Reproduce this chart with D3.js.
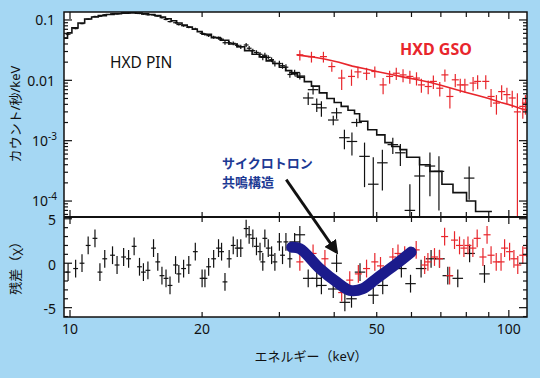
<!DOCTYPE html>
<html>
<head>
<meta charset="utf-8">
<script src="https://cdn.jsdelivr.net/npm/d3@7"></script>
<style>
  html, body { margin: 0; padding: 0; background: #a5d7f3; }
  svg { display: block; font-family: "Noto Sans", "Noto Sans CJK JP", sans-serif; }
</style>
</head>
<body>
<svg id="chart" width="540" height="378"></svg>
<script>
// HXD spectrum with cyclotron resonance feature
// [energy keV, counts/s/keV, error]
const pinData = [
  [9.9, 0.058, 0.002], [10.3, 0.072, 0.002], [10.65, 0.087, 0.002], [11.0, 0.103, 0.003],
  [11.4, 0.114, 0.003], [11.7, 0.115, 0.003], [12.0, 0.122, 0.003], [12.5, 0.127, 0.003],
  [12.8, 0.126, 0.003], [13.25, 0.131, 0.003], [13.6, 0.131, 0.003], [14.0, 0.134, 0.003],
  [14.4, 0.128, 0.003], [14.7, 0.125, 0.003], [15.05, 0.122, 0.003], [15.5, 0.121, 0.003],
  [15.85, 0.116, 0.003], [16.2, 0.109, 0.003], [16.55, 0.102, 0.003], [16.9, 0.094, 0.003],
  [17.4, 0.090, 0.003], [17.7, 0.084, 0.003], [18.15, 0.080, 0.003], [18.65, 0.076, 0.003],
  [19.3, 0.071, 0.003], [20.0, 0.060, 0.003], [20.3, 0.058, 0.003], [20.7, 0.055, 0.003],
  [21.25, 0.052, 0.003], [21.8, 0.050, 0.003], [22.15, 0.048, 0.003], [22.55, 0.042, 0.003],
  [23.05, 0.042, 0.003], [23.55, 0.041, 0.003], [24.05, 0.038, 0.003], [24.5, 0.036, 0.003],
  [25.2, 0.0385, 0.003], [25.6, 0.034, 0.003], [26.1, 0.031, 0.0025], [26.6, 0.029, 0.0025],
  [27.1, 0.027, 0.0025], [27.5, 0.024, 0.0025], [27.8, 0.026, 0.0025], [28.3, 0.024, 0.002],
  [28.8, 0.022, 0.002], [29.3, 0.019, 0.002], [30.0, 0.019, 0.002], [30.5, 0.0175, 0.002],
  [31.05, 0.0165, 0.002], [31.7, 0.0125, 0.0015], [32.5, 0.0135, 0.0015], [33.4, 0.0118, 0.0015],
  [34.9, 0.0051, 0.0012], [35.8, 0.0070, 0.0012], [36.5, 0.0040, 0.0010], [37.4, 0.0035, 0.0010],
  [39.8, 0.0022, 0.0004], [40.5, 0.0029, 0.0006], [42.2, 0.00112, 0.0004], [43.9, 0.00097, 0.0004],
  [45.0, 0.0020, 0.0003], [46.9, 0.00055, 0.00038], [49.1, 0.00019, 0.00034], [51.5, 0.00043, 0.00028],
  [54.4, 0.00086, 0.00026], [56.6, 0.00063, 0.00025], [59.5, 0.00007, 0.00012], [62.6, 0.00026, 0.00023],
  [66.1, 0.00038, 0.00026], [69.3, 0.00031, 0.00024], [81.2, 0.00024, 0.000135]
];

// PIN model, [bin start keV, value]; last entry closes the final bin
const pinModel = [
  [9.69, 0.050], [9.87, 0.061], [10.1, 0.074], [10.43, 0.089], [10.8, 0.104], [11.2, 0.112],
  [11.6, 0.118], [12.1, 0.123], [12.6, 0.127], [13.1, 0.130], [13.6, 0.131], [14.1, 0.130],
  [14.6, 0.127], [15.1, 0.123], [15.6, 0.118], [16.1, 0.112], [16.5, 0.105], [17.0, 0.097],
  [17.5, 0.089], [18.0, 0.082], [18.5, 0.076], [19.0, 0.070], [19.5, 0.064], [20.0, 0.058],
  [21.0, 0.051], [22.0, 0.046], [23.0, 0.040], [24.0, 0.036], [25.0, 0.031], [26.0, 0.027],
  [27.0, 0.0245], [28.0, 0.021], [29.0, 0.019], [30.0, 0.0165], [31.0, 0.0145], [32.0, 0.0128],
  [33.0, 0.0113], [34.2, 0.0095], [35.5, 0.0080], [37.0, 0.0062], [38.5, 0.0050], [40.0, 0.0043],
  [41.5, 0.0037], [43.0, 0.0032], [44.5, 0.0028], [45.7, 0.0021], [47.7, 0.00152], [50.0, 0.00125],
  [52.2, 0.00093], [54.1, 0.00080], [56.5, 0.00071], [58.5, 0.00053], [62.6, 0.00040], [66.1, 0.00031],
  [70.4, 0.00019], [74.6, 0.000138], [80.1, 0.00010], [84.0, 0.000067], [91.5, 0.000067]
];

const gsoData = [
  [33.4, 0.0264, 0.005], [35.5, 0.0247, 0.005], [37.8, 0.0247, 0.005], [39.5, 0.0169, 0.003],
  [41.6, 0.0109, 0.004], [43.8, 0.0116, 0.0035], [45.3, 0.0138, 0.003], [47.4, 0.0131, 0.003],
  [49.5, 0.0140, 0.003], [51.7, 0.0084, 0.0025], [53.5, 0.0116, 0.0028], [55.4, 0.0131, 0.003],
  [57.4, 0.0123, 0.003], [59.5, 0.0116, 0.0028], [61.6, 0.0109, 0.0027], [63.2, 0.0084, 0.0022],
  [65.5, 0.0079, 0.002], [67.3, 0.0096, 0.0024], [69.6, 0.0074, 0.002], [71.5, 0.0123, 0.0028],
  [73.4, 0.0054, 0.002], [75.5, 0.0102, 0.0025], [77.5, 0.0084, 0.0022], [79.4, 0.0084, 0.0022],
  [82.9, 0.0090, 0.0024], [84.9, 0.0096, 0.0025], [88.6, 0.0096, 0.0025], [91.1, 0.0054, 0.0018],
  [93.7, 0.0042, 0.0015], [96.3, 0.0065, 0.0018], [99.0, 0.0058, 0.0017], [101.8, 0.0051, 0.0016],
  [104.6, 0.0030, 0.0031], [107.6, 0.0037, 0.0014], [109.1, 0.0042, 0.0015]
];

// GSO model, [keV, value]
const gsoModel = [
  [32.9, 0.0264], [35.5, 0.0245], [38, 0.0225], [41, 0.0200], [44, 0.0172], [47, 0.0155],
  [50, 0.0140], [54, 0.0125], [58, 0.0112], [62, 0.0102], [66, 0.0093], [70, 0.0083],
  [75, 0.0072], [80, 0.0063], [85, 0.0056], [90, 0.0050], [96, 0.0043], [102, 0.0038],
  [108, 0.0033], [110, 0.0032]
];

// residuals [energy keV, chi]
const pinResid = [
  [9.9, -1.0], [10.3, -0.6], [10.65, 0], [11.0, 2.0], [11.4, 2.8], [11.7, -1.0], [12.0, 0.5],
  [12.5, 0.9], [12.8, -0.2], [13.25, 0.7], [13.6, 0.5], [14.0, 1.9], [14.4, -0.4], [14.7, -1.0],
  [15.05, -0.8], [15.5, 1.7], [15.85, 0.15], [16.2, -1.4], [16.55, -1.7], [16.9, -2.5], [17.4, -0.2],
  [17.7, -1.2], [18.15, -0.6], [18.65, -0.2], [19.3, 1.3], [20.0, -1.7], [20.3, -1.7], [20.7, -0.4],
  [21.25, 0.5], [21.8, 1.7], [22.15, 1.3], [22.55, -2.1], [23.05, 0.5], [23.55, 2.0], [24.05, 1.7],
  [24.5, 1.7], [25.2, 3.9], [25.6, 3.2], [26.1, 2.8], [26.6, 1.9], [27.1, 1.3], [27.5, 0.15],
  [27.8, 2.8], [28.3, 1.7], [28.8, 0.9], [29.3, 0.15], [30.0, 2.4], [30.5, 0.9], [31.05, 2.4],
  [31.7, 0.5], [32.5, 2.4], [33.4, 3.2], [34.9, -1.7], [36.5, -1.7], [37.4, -2.5], [39.8, -2.9],
  [40.5, 0], [42.3, -4.4], [43.8, -4.0], [45.8, -1.0], [49.1, -3.6], [51.6, -2.5], [56.9, -0.6],
  [59.7, -2.3], [63.1, -0.6], [66.5, 0.5], [69.5, 0.5], [72.6, -1.4], [76.5, -1.7], [81.4, 1.1],
  [88.0, -1.2]
];

const gsoResid = [
  [33.4, 0.15], [35.8, 1.1], [38.1, 0.5], [41.6, -3.3], [43.4, -1.9], [45.4, -1.2], [47.4, -0.6],
  [49.5, 0.15], [51.0, -0.3], [54.4, 0.7], [55.9, 1.1], [57.9, 0.9], [61.5, 1.5], [64.3, -0.2],
  [65.4, 0.15], [67.7, 0.7], [69.5, 0.5], [71.4, 3.0], [73.3, -1.4], [75.2, 2.6], [77.2, 2.0],
  [79.0, 1.7], [80.7, 2.0], [82.8, 1.7], [84.7, 2.8], [87.3, 0.7], [89.2, 3.2], [91.1, 0.9],
  [93.6, 0.15], [96.0, 0.15], [97.8, 1.7], [100.4, 1.3], [102.7, 0.5], [104.8, -0.2], [107.6, 0.9],
  [109.9, 1.7]
];

// cyclotron absorption dip drawn over the residuals
const cyclotronCurve = [
  [32.0, 1.8], [33.4, 1.65], [37.1, -0.6], [40.6, -2.15], [43.4, -3.05], [46.5, -2.85],
  [50.0, -1.7], [55.0, -0.2], [59.9, 1.25]
];

const xTickValues = [10, 20, 30, 40, 50, 60, 70, 80, 90, 100];
const xTickLabels = [10, 20, 50, 100];
const residTicks = [-6, -5, -4, -3, -2, -1, 0, 1, 2, 3, 4, 5];
const residLabels = [5, 0, -5];

// layout
const plotLeft = 64, plotRight = 527, plotTop = 12, plotMid = 217, plotBottom = 317;
const red = "#e8262c";

const svg = d3.select("#chart");

const x = d3.scaleLog().domain([9.69, 110]).range([plotLeft, plotRight]);
const yTop = d3.scaleLog().domain([5.44e-5, 0.1355]).range([plotMid, plotTop]);
const yRes = d3.scaleLinear().domain([-6.05, 5.2]).range([plotBottom, plotMid]);

// white plot area
svg.append("rect").attr("x", plotLeft).attr("y", plotTop)
  .attr("width", plotRight - plotLeft).attr("height", plotBottom - plotTop).attr("fill", "white");

const defs = svg.append("defs");
defs.append("clipPath").attr("id", "clipTop").append("rect")
  .attr("x", plotLeft).attr("y", plotTop).attr("width", plotRight - plotLeft).attr("height", plotMid - plotTop);
defs.append("clipPath").attr("id", "clipRes").append("rect")
  .attr("x", plotLeft).attr("y", plotMid).attr("width", plotRight - plotLeft).attr("height", plotBottom - plotMid);
defs.append("marker").attr("id", "arrowHead")
  .attr("viewBox", "0 0 10 10").attr("refX", 8).attr("refY", 5)
  .attr("markerWidth", 5).attr("markerHeight", 5).attr("orient", "auto")
  .append("path").attr("d", "M0,0 L10,5 L0,10 z").attr("fill", "#111");

const gTop = svg.append("g").attr("clip-path", "url(#clipTop)");
const gRes = svg.append("g").attr("clip-path", "url(#clipRes)");

// model line (stepped for PIN, plain for GSO)
function drawModel(g, data, color, curve) {
  const line = d3.line()
    .x(d => x(d[0]))
    .y(d => yTop(d[1]))
    .curve(curve);
  g.append("path").datum(data)
    .attr("d", line)
    .attr("fill", "none")
    .attr("stroke", color)
    .attr("stroke-width", 1.6);
}

// crosses with error bars in the spectrum panel
function drawSpectrum(g, data, color, hw) {
  const pts = g.selectAll(null).data(data).enter().append("g")
    .attr("stroke", color).attr("stroke-width", 1.2);
  pts.append("line")
    .attr("x1", d => x(d[0])).attr("x2", d => x(d[0]))
    .attr("y1", d => yTop(d[1] + d[2]))
    .attr("y2", d => (d[1] - d[2]) > 0 ? yTop(d[1] - d[2]) : plotMid + 2);
  pts.append("line")
    .attr("x1", d => x(d[0] * Math.pow(10, -hw(d[0]))))
    .attr("x2", d => x(d[0] * Math.pow(10, hw(d[0]))))
    .attr("y1", d => yTop(d[1])).attr("y2", d => yTop(d[1]));
}

// residual crosses, error of 1 sigma
function drawResid(g, data, color, hw) {
  const pts = g.selectAll(null).data(data).enter().append("g")
    .attr("stroke", color).attr("stroke-width", 1.2);
  pts.append("line")
    .attr("x1", d => x(d[0])).attr("x2", d => x(d[0]))
    .attr("y1", d => yRes(d[1] + 1)).attr("y2", d => yRes(d[1] - 1));
  pts.append("line")
    .attr("x1", d => x(d[0] * Math.pow(10, -hw(d[0]))))
    .attr("x2", d => x(d[0] * Math.pow(10, hw(d[0]))))
    .attr("y1", d => yRes(d[1])).attr("y2", d => yRes(d[1]));
}

const pinWidth = e => e < 32 ? 0.0055 : 0.012;
const gsoWidth = e => 0.008;

drawModel(gTop, pinModel, "#111", d3.curveStepAfter);
drawModel(gTop, gsoModel, red, d3.curveLinear);
drawSpectrum(gTop, pinData, "#111", pinWidth);
drawSpectrum(gTop, gsoData, red, gsoWidth);

drawResid(gRes, pinResid, "#111", pinWidth);
drawResid(gRes, gsoResid, red, gsoWidth);

// thick blue line marking the absorption dip
gRes.append("path").datum(cyclotronCurve)
  .attr("d", d3.line().x(d => x(d[0])).y(d => yRes(d[1])).curve(d3.curveCatmullRom))
  .attr("fill", "none")
  .attr("stroke", "#1b1b8c")
  .attr("stroke-width", 11)
  .attr("stroke-linecap", "round");

// frame
svg.append("rect").attr("x", plotLeft).attr("y", plotTop)
  .attr("width", plotRight - plotLeft).attr("height", plotBottom - plotTop)
  .attr("fill", "none").attr("stroke", "#111").attr("stroke-width", 1.5);
svg.append("line").attr("x1", plotLeft).attr("x2", plotRight).attr("y1", plotMid).attr("y2", plotMid)
  .attr("stroke", "#111").attr("stroke-width", 2);

// x ticks: top, divider (both sides), bottom
const tickG = svg.append("g").attr("stroke", "#111").attr("stroke-width", 1.2);
xTickValues.forEach(v => {
  const len = (v === 10 || v === 100) ? 7 : 5;
  tickG.append("line").attr("x1", x(v)).attr("x2", x(v)).attr("y1", plotTop).attr("y2", plotTop + len);
  tickG.append("line").attr("x1", x(v)).attr("x2", x(v)).attr("y1", plotMid - len).attr("y2", plotMid + len);
  tickG.append("line").attr("x1", x(v)).attr("x2", x(v)).attr("y1", plotBottom).attr("y2", plotBottom - len);
});

// log ticks on the spectrum panel
const [yMin, yMax] = yTop.domain();
for (let p = -5; p <= -1; p++) {
  for (let m = 1; m <= 9; m++) {
    const v = m * Math.pow(10, p);
    if (v < yMin || v > yMax) continue;
    const len = m === 1 ? 8 : 4;
    tickG.append("line").attr("x1", plotLeft).attr("x2", plotLeft + len).attr("y1", yTop(v)).attr("y2", yTop(v));
    tickG.append("line").attr("x1", plotRight).attr("x2", plotRight - len).attr("y1", yTop(v)).attr("y2", yTop(v));
  }
}

// residual ticks
residTicks.forEach(v => {
  const len = v % 5 === 0 ? 8 : 4;
  tickG.append("line").attr("x1", plotLeft).attr("x2", plotLeft + len).attr("y1", yRes(v)).attr("y2", yRes(v));
  tickG.append("line").attr("x1", plotRight).attr("x2", plotRight - len).attr("y1", yRes(v)).attr("y2", yRes(v));
});

// tick labels
const labelG = svg.append("g").attr("fill", "#111").attr("font-size", 14);

labelG.append("text").attr("x", 55).attr("y", yTop(0.1)).attr("text-anchor", "end")
  .attr("dominant-baseline", "central").text("0.1");
labelG.append("text").attr("x", 55).attr("y", yTop(0.01)).attr("text-anchor", "end")
  .attr("dominant-baseline", "central").text("0.01");
[-3, -4].forEach(p => {
  const t = labelG.append("text").attr("x", 57).attr("y", yTop(Math.pow(10, p)) + 5)
    .attr("text-anchor", "end");
  t.append("tspan").text("10");
  t.append("tspan").attr("font-size", 10).attr("dy", -6).text(p);
});

residLabels.forEach(v => {
  labelG.append("text").attr("x", 56).attr("y", yRes(v) + 1).attr("text-anchor", "end")
    .attr("dominant-baseline", "central").text(v);
});

xTickLabels.forEach(v => {
  labelG.append("text").attr("x", x(v)).attr("y", plotBottom + 11).attr("text-anchor", "middle")
    .attr("dominant-baseline", "central").text(v);
});

// axis titles
svg.append("text").attr("transform", "translate(15,114) rotate(-90)")
  .attr("text-anchor", "middle").attr("dominant-baseline", "central")
  .attr("font-size", 13).attr("fill", "#111").text("カウント/秒/keV");
svg.append("text").attr("transform", "translate(15,265) rotate(-90)")
  .attr("text-anchor", "middle").attr("dominant-baseline", "central")
  .attr("font-size", 13).attr("fill", "#111").text("残差（χ）");
svg.append("text").attr("x", 311).attr("y", 356)
  .attr("text-anchor", "middle").attr("dominant-baseline", "central")
  .attr("font-size", 13).attr("fill", "#111").text("エネルギー（keV）");

// instrument labels
svg.append("text").attr("x", 110).attr("y", 62).attr("dominant-baseline", "central")
  .attr("font-size", 15.5).attr("fill", "#111").text("HXD PIN");
svg.append("text").attr("x", 400).attr("y", 49).attr("dominant-baseline", "central")
  .attr("font-size", 16).attr("font-weight", "bold").attr("fill", red).text("HXD GSO");

// cyclotron annotation
svg.append("text").attr("x", 222).attr("y", 163).attr("dominant-baseline", "central")
  .attr("font-size", 13).attr("font-weight", "bold").attr("fill", "#1d3a94").text("サイクロトロン");
svg.append("text").attr("x", 222).attr("y", 182).attr("dominant-baseline", "central")
  .attr("font-size", 13).attr("font-weight", "bold").attr("fill", "#1d3a94").text("共鳴構造");

svg.append("line")
  .attr("x1", x(31.1)).attr("y1", yTop(0.000226))
  .attr("x2", x(40.5)).attr("y2", yRes(1.25))
  .attr("stroke", "#111").attr("stroke-width", 2.8)
  .attr("marker-end", "url(#arrowHead)");
</script>
</body>
</html>
